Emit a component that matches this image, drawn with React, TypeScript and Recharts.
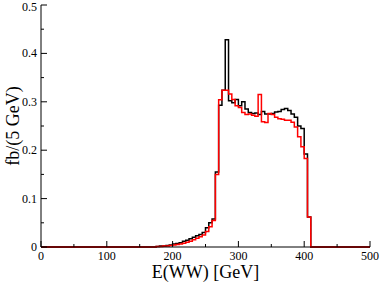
import React from 'react';
import { LineChart, Line, XAxis, YAxis } from 'recharts';

// left edges of the 5 GeV bins that carry events
const binEdges = [
  175, 180, 185, 190, 195, 200, 205, 210, 215, 220, 225, 230, 235, 240, 245, 250,
  255, 260, 265, 270, 275, 280, 285, 290, 295, 300, 305, 310, 315, 320, 325, 330,
  335, 340, 345, 350, 355, 360, 365, 370, 375, 380, 385, 390, 395, 400, 405,
];

const blackValues = [
  0.001, 0.002, 0.002, 0.003, 0.004, 0.006, 0.007, 0.009, 0.012, 0.014, 0.017, 0.02,
  0.023, 0.026, 0.03, 0.04, 0.05, 0.058, 0.155, 0.293, 0.324, 0.428, 0.302, 0.298,
  0.305, 0.292, 0.3, 0.285, 0.278, 0.276, 0.277, 0.274, 0.28, 0.275, 0.275, 0.276,
  0.279, 0.28, 0.284, 0.286, 0.282, 0.275, 0.268, 0.25, 0.245, 0.192, 0.062,
];

const redValues = [
  0.001, 0.001, 0.002, 0.002, 0.003, 0.004, 0.005, 0.006, 0.008, 0.01, 0.012, 0.015,
  0.018, 0.021, 0.025, 0.032, 0.042, 0.055, 0.15, 0.304, 0.324, 0.324, 0.316, 0.305,
  0.292, 0.288, 0.278, 0.274, 0.275, 0.272, 0.27, 0.315, 0.259, 0.257, 0.276, 0.274,
  0.268, 0.265, 0.264, 0.262, 0.262, 0.258, 0.248, 0.228, 0.207, 0.183, 0.062,
];

const xTicks = [0, 50, 100, 150, 200, 250, 300, 350, 400, 450, 500];
const xLabels = [0, 100, 200, 300, 400, 500];
const yTicks = [0, 0.05, 0.1, 0.15, 0.2, 0.25, 0.3, 0.35, 0.4, 0.45, 0.5];
const yLabels = ['0', '0.1', '0.2', '0.3', '0.4', '0.5'];

const data = [
  { e: 0, black: 0, red: 0 },
  ...binEdges.map((e, i) => ({ e, black: blackValues[i], red: redValues[i] })),
  { e: 410, black: 0, red: 0 },
  { e: 500, black: 0, red: 0 },
];

const FONT = "'Liberation Serif', 'DejaVu Serif', serif";
const textStyle = { fontFamily: FONT };
const MAJOR = 6;
const MINOR = 3;

const isMajorX = (v: number) => xLabels.includes(v);
const yLabelOf = (v: number) => {
  const k = Math.round(v * 100);
  return k % 10 === 0 ? yLabels[k / 10] : null;
};

const BottomTick = ({ x, y, payload }: any) => {
  const major = isMajorX(payload.value);
  return (
    <g>
      <line x1={x} x2={x} y1={y} y2={y - (major ? MAJOR : MINOR)} stroke="#000" />
      {major && (
        <text x={x} y={y + 13} textAnchor="middle" fontSize={12} style={textStyle} fill="#000">
          {payload.value}
        </text>
      )}
    </g>
  );
};

const TopTick = ({ x, y, payload }: any) => (
  <line x1={x} x2={x} y1={y} y2={y + (isMajorX(payload.value) ? MAJOR : MINOR)} stroke="#000" />
);

const LeftTick = ({ x, y, payload }: any) => {
  const label = yLabelOf(payload.value);
  return (
    <g>
      <line x1={x} x2={x + (label ? MAJOR : MINOR)} y1={y} y2={y} stroke="#000" />
      {label && (
        <text x={x - 4} y={Math.max(y + 4, 11)} textAnchor="end" fontSize={12} style={textStyle} fill="#000">
          {label}
        </text>
      )}
    </g>
  );
};

const RightTick = ({ x, y, payload }: any) => (
  <line x1={x} x2={x - (yLabelOf(payload.value) ? MAJOR : MINOR)} y1={y} y2={y} stroke="#000" />
);

export default function App() {
  return (
    <div style={{ position: 'absolute', left: 0, top: 0, background: '#fff', fontFamily: FONT }}>
      <LineChart width={382} height={282} data={data} margin={{ top: 5, right: 12, bottom: 0, left: 0 }}>
        <XAxis
          xAxisId="bottom"
          dataKey="e"
          type="number"
          domain={[0, 500]}
          ticks={xTicks}
          interval={0}
          height={35}
          tickLine={false}
          tickSize={0}
          tickMargin={0}
          tick={<BottomTick />}
          axisLine={{ stroke: '#000' }}
          label={{
            content: ({ viewBox }: any) => (
              <text
                x={viewBox.x + viewBox.width / 2}
                y={viewBox.y + 31}
                textAnchor="middle"
                fontSize={18}
                style={textStyle}
                fill="#000"
              >
                E(WW) [GeV]
              </text>
            ),
          }}
        />
        <XAxis
          xAxisId="top"
          orientation="top"
          dataKey="e"
          type="number"
          domain={[0, 500]}
          ticks={xTicks}
          interval={0}
          height={0}
          tickLine={false}
          tickSize={0}
          tickMargin={0}
          tick={<TopTick />}
          axisLine={{ stroke: '#000' }}
        />
        <YAxis
          yAxisId="left"
          type="number"
          domain={[0, 0.5]}
          ticks={yTicks}
          interval={0}
          width={41}
          tickLine={false}
          tickSize={0}
          tickMargin={0}
          tick={<LeftTick />}
          axisLine={{ stroke: '#000' }}
          label={{
            content: ({ viewBox }: any) => {
              const cx = viewBox.x + 13;
              const cy = viewBox.y + viewBox.height / 2;
              return (
                <text
                  x={cx}
                  y={cy}
                  transform={`rotate(-90 ${cx} ${cy})`}
                  textAnchor="middle"
                  dominantBaseline="central"
                  fontSize={18}
                  style={textStyle}
                  fill="#000"
                >
                  fb/(5 GeV)
                </text>
              );
            },
          }}
        />
        <YAxis
          yAxisId="right"
          orientation="right"
          type="number"
          domain={[0, 0.5]}
          ticks={yTicks}
          interval={0}
          width={0}
          tickLine={false}
          tickSize={0}
          tickMargin={0}
          tick={<RightTick />}
          axisLine={{ stroke: '#000' }}
        />
        <Line
          xAxisId="bottom"
          yAxisId="left"
          type="stepAfter"
          dataKey="black"
          stroke="#000000"
          strokeWidth={1.5}
          dot={false}
          activeDot={false}
          isAnimationActive={false}
        />
        <Line
          xAxisId="top"
          yAxisId="right"
          type="stepAfter"
          dataKey="red"
          stroke="#ff0000"
          strokeWidth={1.5}
          dot={false}
          activeDot={false}
          isAnimationActive={false}
        />
      </LineChart>
    </div>
  );
}
